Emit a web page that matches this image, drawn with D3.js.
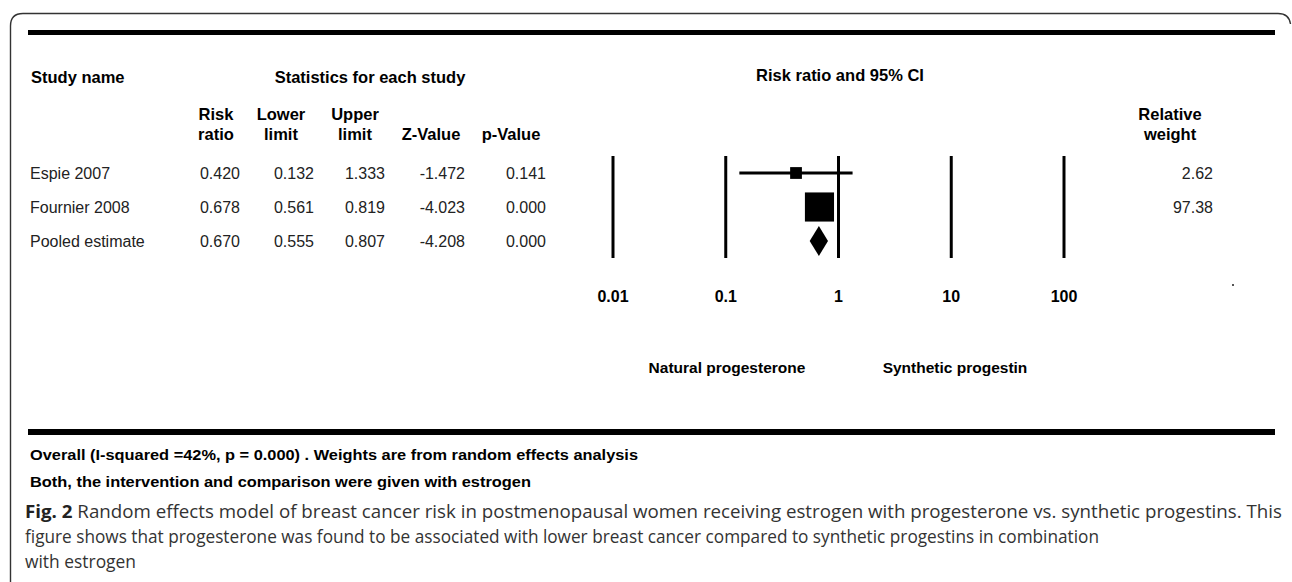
<!DOCTYPE html>
<html><head><meta charset="utf-8">
<script src="https://cdn.jsdelivr.net/npm/d3@7"></script>
<style>
html,body{margin:0;padding:0;background:#fff;}
svg text{font-family:"Liberation Sans",Arial,sans-serif;}
svg text.cap{font-family:"Open Sans","Noto Sans",sans-serif;}
</style></head>
<body><svg id="c" width="1292" height="582"></svg>
<script>
const studies = ["Espie 2007", "Fournier 2008", "Pooled estimate"];
const riskRatio = [0.420, 0.678, 0.670];
const lowerLimit = [0.132, 0.561, 0.555];
const upperLimit = [1.333, 0.819, 0.807];
const zValue = [-1.472, -4.023, -4.208];
const pValue = [0.141, 0.000, 0.000];
const relWeight = [2.62, 97.38, null];
const isPooled = [false, false, true];
const tickValues = [0.01, 0.1, 1, 10, 100];
const tickLabels = ["0.01", "0.1", "1", "10", "100"];
const leftLabel = "Natural progesterone";
const rightLabel = "Synthetic progestin";
const footnotes = ["Overall (I-squared =42%, p = 0.000) .  Weights are from random effects analysis",
                   "Both, the intervention and comparison were given with estrogen"];

const svg = d3.select("#c");
const loc = d3.formatLocale({decimal: ".", thousands: ",", grouping: [3], currency: ["", ""], minus: "-"});
const f3 = loc.format(".3f"), f2 = loc.format(".2f");

// frame
svg.append("path")
  .attr("d", "M10.5,600 L10.5,26 Q10.5,13.5 23,13.5 L1278,13.5 Q1289,13.5 1290.5,24")
  .attr("fill", "none").attr("stroke", "#333").attr("stroke-width", 1.4);
svg.append("rect").attr("x", 28).attr("y", 30).attr("width", 1247).attr("height", 5).attr("fill", "#000");
svg.append("rect").attr("x", 28).attr("y", 429).attr("width", 1247).attr("height", 6).attr("fill", "#000");

// scales
const x = d3.scaleLog().domain([0.01, 100]).range([613, 1064]);
const y = d3.scalePoint().domain(studies).range([173, 241]);
const size = d3.scaleLinear().domain([0, 100]).range([11.3, 29.6]);

const hdr = (t, xx, yy, anchor, fs) => svg.append("text").attr("x", xx).attr("y", yy).attr("dy", "0.35em")
  .attr("text-anchor", anchor || "middle").attr("font-weight", "bold").attr("font-size", fs || 16.5)
  .attr("fill", "#000").text(t);

hdr("Study name", 31, 77, "start");
hdr("Statistics for each study", 370, 77);
hdr("Risk ratio and 95% CI", 840, 75);
const colHdr = [["Risk", "ratio", 216], ["Lower", "limit", 281], ["Upper", "limit", 355], ["", "Z-Value", 431], ["", "p-Value", 511]];
colHdr.forEach(c => { if (c[0]) hdr(c[0], c[2], 114); hdr(c[1], c[2], 134); });
hdr("Relative", 1170, 114); hdr("weight", 1170, 134);

// table values
const colEnds = [240, 314, 385, 465, 546];
const cols = [riskRatio, lowerLimit, upperLimit, zValue, pValue];
const rows = svg.append("g").attr("font-size", 16).attr("fill", "#222");
studies.forEach((s, i) => {
  rows.append("text").attr("x", 30).attr("y", y(s)).attr("dy", "0.35em").text(s);
  cols.forEach((arr, j) => {
    rows.append("text").attr("x", colEnds[j]).attr("y", y(s)).attr("dy", "0.35em")
      .attr("text-anchor", "end").text(f3(arr[i]));
  });
  if (relWeight[i] != null) {
    rows.append("text").attr("x", 1213).attr("y", y(s)).attr("dy", "0.35em")
      .attr("text-anchor", "end").text(f2(relWeight[i]));
  }
});

// grid lines and ticks
svg.append("g").selectAll("line").data(tickValues).join("line")
  .attr("x1", d => x(d)).attr("x2", d => x(d)).attr("y1", 156).attr("y2", 258)
  .attr("stroke", "#000").attr("stroke-width", 3);
svg.append("g").selectAll("text").data(tickValues).join("text")
  .attr("x", d => x(d)).attr("y", 296).attr("dy", "0.35em").attr("text-anchor", "middle")
  .attr("font-weight", "bold").attr("font-size", 16).text((d, i) => tickLabels[i]);

// study marks
studies.forEach((s, i) => {
  if (isPooled[i]) {
    const yc = y(s), h = 15;
    svg.append("path").attr("fill", "#000")
      .attr("d", `M${x(lowerLimit[i])},${yc} L${x(riskRatio[i])},${yc - h} L${x(upperLimit[i])},${yc} L${x(riskRatio[i])},${yc + h} Z`);
  } else {
    svg.append("line").attr("x1", x(lowerLimit[i])).attr("x2", x(upperLimit[i]))
      .attr("y1", y(s)).attr("y2", y(s)).attr("stroke", "#000").attr("stroke-width", 3);
    const sz = size(relWeight[i]);
    svg.append("rect").attr("x", x(riskRatio[i]) - sz / 2).attr("y", y(s) - sz / 2)
      .attr("width", sz).attr("height", sz).attr("fill", "#000");
  }
});

// favours labels
hdr(leftLabel, 727, 368, "middle", 15.5);
hdr(rightLabel, 955, 368, "middle", 15.5);
svg.append("rect").attr("x", 1232).attr("y", 284).attr("width", 2).attr("height", 2).attr("fill", "#555");

// footnotes
svg.append("text").attr("x", 30).attr("y", 455).attr("dy", "0.35em").attr("font-weight", "bold")
  .attr("font-size", 15.5).attr("textLength", 608).attr("lengthAdjust", "spacingAndGlyphs").text(footnotes[0]);
svg.append("text").attr("x", 30).attr("y", 482).attr("dy", "0.35em").attr("font-weight", "bold")
  .attr("font-size", 15.5).attr("textLength", 501).attr("lengthAdjust", "spacingAndGlyphs").text(footnotes[1]);

// caption
const cap = svg.append("g").attr("fill", "#333").attr("font-size", 18.5);
const l1 = cap.append("text").attr("class", "cap").attr("x", 25).attr("y", 512).attr("dy", "0.35em")
  .attr("textLength", 1257).attr("lengthAdjust", "spacingAndGlyphs");
l1.append("tspan").attr("font-weight", "bold").attr("fill", "#222").text("Fig. 2");
l1.append("tspan").text(" Random effects model of breast cancer risk in postmenopausal women receiving estrogen with progesterone vs. synthetic progestins. This");
cap.append("text").attr("class", "cap").attr("x", 25).attr("y", 537).attr("dy", "0.35em")
  .attr("textLength", 1074).attr("lengthAdjust", "spacingAndGlyphs")
  .text("figure shows that progesterone was found to be associated with lower breast cancer compared to synthetic progestins in combination");
cap.append("text").attr("class", "cap").attr("x", 25).attr("y", 562).attr("dy", "0.35em")
  .attr("textLength", 111).attr("lengthAdjust", "spacingAndGlyphs").text("with estrogen");
</script></body></html>
